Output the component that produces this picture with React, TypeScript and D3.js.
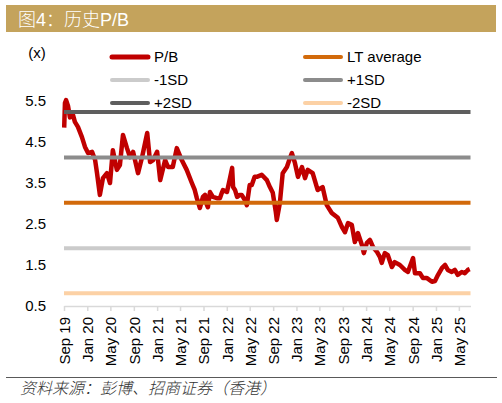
import { useEffect, useRef } from "react";
import * as d3 from "d3";

// P/B history
const pbDates = [
    "2019-09-02", "2019-09-06", "2019-09-12", "2019-09-22", "2019-10-02", "2019-10-18", "2019-10-28",
    "2019-11-13", "2019-12-04", "2019-12-20", "2020-01-05", "2020-01-26", "2020-02-11", "2020-02-21",
    "2020-03-07", "2020-03-23", "2020-04-13", "2020-04-29", "2020-05-14", "2020-06-04", "2020-06-20",
    "2020-07-06", "2020-07-27", "2020-08-12", "2020-08-28", "2020-09-23", "2020-10-14", "2020-11-10",
    "2020-11-25", "2020-12-11", "2021-01-01", "2021-01-17", "2021-02-12", "2021-02-27", "2021-03-24",
    "2021-04-14", "2021-05-10", "2021-06-05", "2021-07-02", "2021-07-17", "2021-07-28", "2021-08-13",
    "2021-08-29", "2021-09-09", "2021-09-19", "2021-09-24", "2021-10-05", "2021-10-20", "2021-11-10",
    "2021-11-26", "2021-12-06", "2021-12-12", "2022-01-02", "2022-01-18", "2022-01-29", "2022-02-03",
    "2022-02-13", "2022-02-24", "2022-03-10", "2022-03-20", "2022-04-05", "2022-04-16", "2022-05-01",
    "2022-05-12", "2022-05-27", "2022-06-07", "2022-07-03", "2022-07-30", "2022-08-15", "2022-08-30",
    "2022-09-15", "2022-09-20", "2022-10-06", "2022-10-21", "2022-11-12", "2022-11-28", "2022-12-08",
    "2022-12-24", "2023-01-09", "2023-01-30", "2023-02-15", "2023-03-01", "2023-03-27", "2023-04-22",
    "2023-05-18", "2023-06-09", "2023-07-05", "2023-08-06", "2023-08-27", "2023-09-12", "2023-09-28",
    "2023-10-18", "2023-11-03", "2023-11-19", "2023-12-10", "2023-12-20", "2024-01-05", "2024-01-21",
    "2024-02-06", "2024-02-27", "2024-03-13", "2024-03-23", "2024-04-08", "2024-04-24", "2024-05-15",
    "2024-05-30", "2024-06-26", "2024-07-22", "2024-08-07", "2024-09-03", "2024-09-13", "2024-10-09",
    "2024-10-25", "2024-11-15", "2024-12-11", "2024-12-27", "2025-01-12", "2025-02-02", "2025-02-18",
    "2025-03-04", "2025-03-25", "2025-04-10", "2025-04-25", "2025-05-16", "2025-06-01", "2025-06-17",
    "2025-06-27",
];
const pbValues = [
    4.85, 5.45, 5.52, 5.38, 5.10, 5.16, 4.99,
    4.87, 4.62, 4.38, 4.23, 4.26, 4.06, 3.74,
    3.21, 3.62, 3.74, 3.50, 4.30, 3.82, 3.94,
    4.67, 4.35, 4.13, 4.26, 3.74, 4.13, 4.72,
    4.01, 4.06, 4.26, 3.57, 4.06, 3.89, 3.89,
    4.35, 4.06, 3.82, 3.50, 3.33, 3.13, 2.89,
    3.16, 3.21, 2.96, 2.91, 3.28, 3.16, 3.13,
    3.13, 3.26, 3.33, 3.28, 3.62, 3.87, 3.40,
    3.33, 3.16, 3.21, 3.21, 3.09, 2.96, 3.45,
    3.45, 3.65, 3.65, 3.70, 3.57, 3.40, 3.26,
    2.79, 2.60, 3.01, 3.74, 3.89, 4.11, 4.23,
    3.99, 3.65, 3.89, 3.62, 3.82, 3.74, 3.33,
    3.40, 2.96, 2.77, 2.65, 2.43, 2.30, 2.52,
    2.48, 2.06, 2.28, 1.99, 1.79, 2.04, 2.11,
    1.94, 1.82, 1.70, 1.55, 1.79, 1.74, 1.45,
    1.57, 1.50, 1.38, 1.33, 1.67, 1.30, 1.30,
    1.18, 1.18, 1.09, 1.11, 1.26, 1.43, 1.50,
    1.38, 1.33, 1.38, 1.26, 1.33, 1.30, 1.38,
    1.40,
];

// reference lines
const refNames = ["LT average", "-1SD", "+1SD", "+2SD", "-2SD"];
const refValues = [3.02, 1.91, 4.12, 5.23, 0.81];
const refColors = ["#d26a0b", "#cbcbcb", "#8c8c8c", "#5e5e5e", "#fcd1a5"];

const yTicks = [0.5, 1.5, 2.5, 3.5, 4.5, 5.5];

const FONT = "'Liberation Sans', Arial, 'Noto Sans CJK SC', sans-serif";

export default function App() {
    const svgRef = useRef<SVGSVGElement | null>(null);

    useEffect(() => {
        if (!svgRef.current) return;
        const svg = d3.select(svgRef.current);
        svg.selectAll("*").remove();

        const width = 502;
        const height = 403;
        const left = 64;
        const right = 470.5;
        const top = 101;
        const bottom = 306;

        // title bar
        svg.append("rect")
            .attr("x", 6)
            .attr("y", 5)
            .attr("width", 490)
            .attr("height", 27)
            .attr("fill", "#c4a35c");
        svg.append("text")
            .attr("x", 18)
            .attr("y", 25.5)
            .attr("fill", "#ffffff")
            .attr("font-size", 18)
            .attr("font-weight", 300)
            .attr("font-family", FONT)
            .text("图4：历史P/B");

        const x = d3
            .scaleTime()
            .domain([new Date(2019, 8, 1), new Date(2025, 6, 1)])
            .range([left, right]);
        const y = d3.scaleLinear().domain([0.5, 5.5]).range([bottom, top]);

        // x axis
        const xAxis = svg
            .append("g")
            .attr("transform", `translate(0,${bottom})`)
            .call(
                d3
                    .axisBottom(x)
                    .ticks(d3.timeMonth.every(4))
                    .tickFormat((d) => d3.timeFormat("%b %y")(d as Date))
                    .tickSizeInner(5)
                    .tickSizeOuter(0)
            );
        xAxis.select(".domain").attr("stroke", "#d9d9d9").attr("stroke-width", 1.5);
        xAxis.selectAll(".tick line").attr("stroke", "#d9d9d9").attr("stroke-width", 1.5);
        xAxis
            .selectAll(".tick text")
            .attr("font-size", 15)
            .attr("font-family", FONT)
            .attr("fill", "#000")
            .attr("transform", "translate(0,11)rotate(-90)")
            .attr("x", 0)
            .attr("y", 0)
            .attr("dy", "0.36em")
            .style("text-anchor", "end");

        // y labels
        svg.append("g")
            .selectAll("text")
            .data(yTicks)
            .enter()
            .append("text")
            .attr("x", 46)
            .attr("y", (d) => y(d))
            .attr("dy", "0.36em")
            .attr("text-anchor", "end")
            .attr("font-size", 15)
            .attr("font-family", FONT)
            .attr("fill", "#000")
            .text((d) => d.toFixed(1));

        svg.append("text")
            .attr("x", 37)
            .attr("y", 53)
            .attr("dy", "0.36em")
            .attr("text-anchor", "middle")
            .attr("font-size", 15)
            .attr("font-family", FONT)
            .text("(x)");

        // P/B line
        const pb = pbDates.map((d, i) => ({ date: new Date(d + "T00:00:00"), value: pbValues[i] }));
        const line = d3
            .line<{ date: Date; value: number }>()
            .x((d) => x(d.date))
            .y((d) => y(d.value));
        svg.append("path")
            .datum(pb)
            .attr("d", line)
            .attr("fill", "none")
            .attr("stroke", "#c00000")
            .attr("stroke-width", 4.5)
            .attr("stroke-linejoin", "round");

        // reference lines
        svg.append("g")
            .selectAll("line")
            .data(refValues)
            .enter()
            .append("line")
            .attr("x1", left)
            .attr("x2", right)
            .attr("y1", (d) => y(d))
            .attr("y2", (d) => y(d))
            .attr("stroke", (_, i) => refColors[i])
            .attr("stroke-width", 4);

        // legend
        const legend = [
            { name: "P/B", color: "#c00000", w: 5 },
            ...refNames.map((n, i) => ({ name: n, color: refColors[i], w: 4 })),
        ];
        const lg = svg
            .append("g")
            .selectAll("g")
            .data(legend)
            .enter()
            .append("g")
            .attr("transform", (_, i) => `translate(${i % 2 === 0 ? 110 : 303},${57 + Math.floor(i / 2) * 23})`);
        lg.append("line")
            .attr("x1", 2)
            .attr("x2", 38)
            .attr("stroke", (d) => d.color)
            .attr("stroke-width", (d) => d.w)
            .attr("stroke-linecap", "round");
        lg.append("text")
            .attr("x", 44)
            .attr("dy", "0.36em")
            .attr("font-size", 15)
            .attr("font-family", FONT)
            .attr("fill", "#000")
            .text((d) => d.name);

        // source
        svg.append("line")
            .attr("x1", 6)
            .attr("x2", 497)
            .attr("y1", 377.5)
            .attr("y2", 377.5)
            .attr("stroke", "#595959")
            .attr("stroke-width", 1);
        svg.append("text")
            .attr("x", 20)
            .attr("y", 394)
            .attr("font-size", 16)
            .attr("font-weight", 300)
            .attr("font-style", "italic")
            .attr("font-family", "'Noto Sans CJK SC', sans-serif")
            .attr("fill", "#333")
            .text("资料来源：彭博、招商证券（香港）");

        svg.attr("width", width).attr("height", height);
    }, []);

    return (
        <svg
            ref={svgRef}
            width={502}
            height={403}
            style={{ position: "absolute", left: 0, top: 0, background: "#fff" }}
        />
    );
}
